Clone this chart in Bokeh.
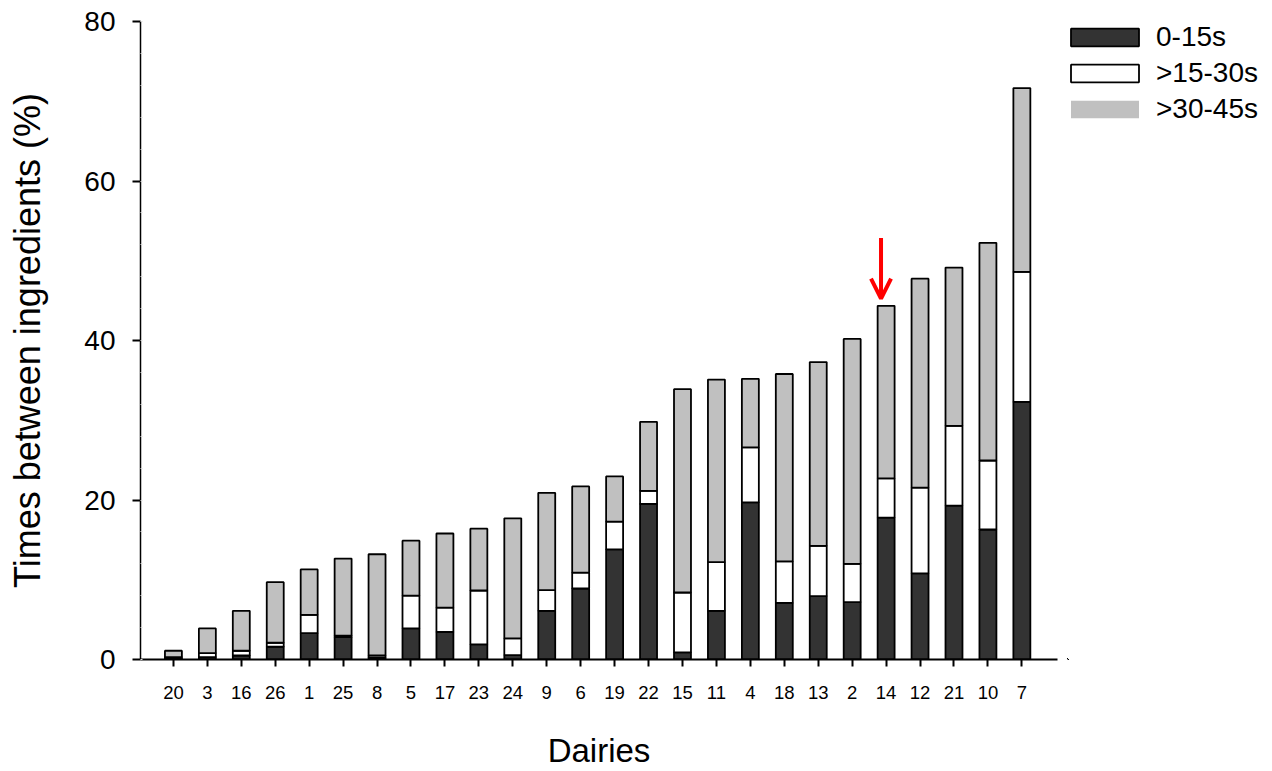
from bokeh.plotting import figure
from bokeh.layouts import row
from bokeh.models import (ColumnDataSource, FixedTicker, Legend, LegendItem,
                          Arrow, OpenHead, Range1d)
from bokeh.embed import file_html
from bokeh.resources import INLINE

# Dairies, ordered by total share of times between ingredients
dairies = ["20", "3", "16", "26", "1", "25", "8", "5", "17", "23", "24", "9", "6",
           "19", "22", "15", "11", "4", "18", "13", "2", "14", "12", "21", "10", "7"]

# Percent of times between ingredients in each interval
t_0_15 = [0.1, 0.3, 0.5, 1.6, 3.3, 2.8, 0.2, 3.9, 3.45, 1.9, 0.55, 6.1, 8.9,
          13.8, 19.5, 0.9, 6.1, 19.7, 7.1, 7.95, 7.2, 17.8, 10.8, 19.3, 16.3, 32.3]
t_15_30 = [0.2, 0.5, 0.6, 0.5, 2.3, 0.2, 0.3, 4.1, 3.05, 6.75, 2.1, 2.6, 2.0,
           3.5, 1.65, 7.5, 6.1, 6.9, 5.2, 6.3, 4.8, 4.9, 10.75, 10.0, 8.65, 16.3]
t_30_45 = [0.8, 3.1, 5.0, 7.6, 5.7, 9.65, 12.7, 6.9, 9.3, 7.75, 15.05, 12.2, 10.8,
           5.65, 8.65, 25.5, 22.9, 8.6, 23.5, 23.05, 28.2, 21.65, 26.2, 19.85, 27.3, 23.05]

series_labels = ["0-15s", ">15-30s", ">30-45s"]
series_colors = ["#333333", "#ffffff", "#c0c0c0"]
y_ticks = [0, 20, 40, 60, 80]
highlight = "14"

FONT = "Liberation Sans"

xs = list(range(1, len(dairies) + 1))
source = ColumnDataSource(dict(x=xs, a=t_0_15, b=t_15_30, c=t_30_45))

# ---- main bar chart ----
p = figure(width=1067, height=771, output_backend="svg", toolbar_location=None,
           x_range=Range1d(0.03, 27.05), y_range=Range1d(0, 80),
           min_border_left=140, min_border_right=10,
           min_border_top=21, min_border_bottom=109)
p.outline_line_color = None
p.grid.visible = False
p.background_fill_color = "white"

p.vbar_stack(["a", "b", "c"], x="x", width=0.5, source=source,
             fill_color=series_colors, line_color="black", line_width=1.8)

# Red arrow pointing at dairy 14
i14 = dairies.index(highlight)
x14 = xs[i14] - 0.15
top14 = t_0_15[i14] + t_15_30[i14] + t_30_45[i14]
p.add_layout(Arrow(end=OpenHead(size=20, line_color="red", line_width=4),
                   x_start=x14, y_start=top14 + 8.5,
                   x_end=x14, y_end=top14 + 0.9,
                   line_color="red", line_width=4))

xa = p.xaxis[0]
xa.ticker = FixedTicker(ticks=xs)
xa.major_label_overrides = {x: d for x, d in zip(xs, dairies)}
xa.axis_label = "Dairies"
xa.axis_line_width = 2
xa.axis_line_color = "black"
xa.major_tick_in = 0
xa.major_tick_out = 7
xa.major_tick_line_width = 2
xa.major_tick_line_color = "black"
xa.minor_tick_line_color = None
xa.major_label_text_font = FONT
xa.major_label_text_font_size = "18.5px"
xa.major_label_text_color = "black"
xa.major_label_standoff = 19
xa.axis_label_text_font = FONT
xa.axis_label_text_font_size = "33px"
xa.axis_label_text_font_style = "normal"
xa.axis_label_text_color = "black"
xa.axis_label_standoff = 30

ya = p.yaxis[0]
ya.ticker = FixedTicker(ticks=y_ticks, minor_ticks=list(range(0, 81, 4)))
ya.axis_label = "Times between ingredients (%)"
ya.axis_line_width = 1.5
ya.axis_line_color = "black"
ya.major_tick_in = 0
ya.major_tick_out = 8
ya.major_tick_line_width = 2
ya.major_tick_line_color = "black"
ya.minor_tick_in = 2
ya.minor_tick_out = 0
ya.minor_tick_line_color = "#dddddd"
ya.major_label_text_font = FONT
ya.major_label_text_font_size = "28px"
ya.major_label_text_color = "black"
ya.major_label_standoff = 17
ya.axis_label_text_font = FONT
ya.axis_label_text_font_size = "36px"
ya.axis_label_text_font_style = "normal"
ya.axis_label_text_color = "black"
ya.axis_label_standoff = 33

# ---- legend panel to the right of the chart ----
lg = figure(width=205, height=771, output_backend="svg", toolbar_location=None,
            x_axis_type=None, y_axis_type=None,
            x_range=Range1d(100, 101), y_range=Range1d(100, 101),
            min_border_left=0, min_border_right=0,
            min_border_top=21, min_border_bottom=109)
lg.outline_line_color = None
lg.grid.visible = False

# Swatch renderers; their bars fall outside the panel's ranges and stay hidden
sw = [lg.vbar(x="x", top=0, width=0.5, source=source,
              fill_color=series_colors[0], line_color="black", line_width=1.8),
      lg.vbar(x="x", top=0, width=0.5, source=source,
              fill_color=series_colors[1], line_color="black", line_width=1.8),
      lg.vbar(x="x", top=0, width=0.5, source=source,
              fill_color=series_colors[2], line_color=None)]

# Area swatches are inset by 10% of the glyph box, hence the wider box
legend = Legend(items=[LegendItem(label=lab, renderers=[r])
                       for lab, r in zip(series_labels, sw)],
                location=(-5, 534), orientation="vertical",
                glyph_width=85, glyph_height=22, label_height=33,
                spacing=3, padding=0, margin=0, label_standoff=9,
                label_text_font=FONT, label_text_font_size="28px",
                label_text_color="black",
                border_line_alpha=0, background_fill_alpha=0)
lg.add_layout(legend)

open("out.html", "w").write(file_html(row(p, lg), INLINE))
